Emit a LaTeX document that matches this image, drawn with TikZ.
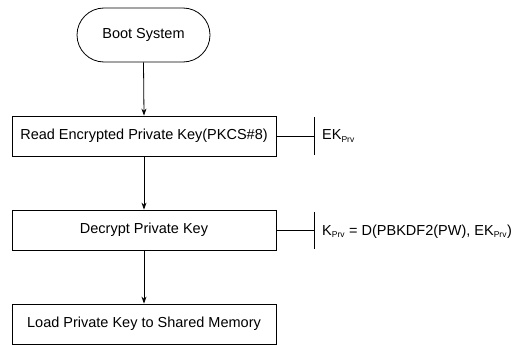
\documentclass[tikz,border=0pt]{standalone}
\usepackage{fontspec}
\setmainfont{Liberation Sans}
\usetikzlibrary{arrows.meta}
\begin{document}
\begin{tikzpicture}[x=1pt,y=-1pt,
  every node/.style={font=\fontsize{14.5}{16}\selectfont},
  procbox/.style={draw, line width=0.8pt, minimum width=264pt, minimum height=40pt, inner sep=0pt},
  termbox/.style={draw, line width=0.8pt, rounded corners=27pt, minimum width=133pt, minimum height=54pt, inner sep=0pt},
  flow/.style={line width=0.8pt, -{Stealth[length=7pt,width=5pt]}},
  tie/.style={line width=0.8pt},
  note/.style={anchor=west, inner sep=0pt}
]
\useasboundingbox (0,0) rectangle (519,345);
\node[termbox] (boot) at (143.5,35) {Boot System};
\node[procbox] (read) at (144,136) {Read Encrypted Private Key(PKCS\#8)};
\node[procbox] (dec) at (144,230) {Decrypt Private Key};
\node[procbox] (load) at (144,324) {Load Private Key to Shared Memory};
\draw[flow] (boot.south) -- (read.north);
\draw[flow] (read.south) -- (dec.north);
\draw[flow] (dec.south) -- (load.north);
\coordinate (b1) at (314,136);
\coordinate (b1t) at (314,117);
\coordinate (b1b) at (314,155);
\coordinate (b2) at (314,230);
\coordinate (b2t) at (314,212);
\coordinate (b2b) at (314,249);
\draw[tie] (read.east) -- (b1);
\draw[tie] (b1t) -- (b1b);
\draw[tie] (dec.east) -- (b2);
\draw[tie] (b2t) -- (b2b);
\node[note] (ek) at (322,136) {EK\textsubscript{\fontsize{8.5}{9}\selectfont Prv}};
\node[note] (kp) at (322,232) {K\textsubscript{\fontsize{8.5}{9}\selectfont Prv} = D(PBKDF2(PW), EK\textsubscript{\fontsize{8.5}{9}\selectfont Prv})};
\end{tikzpicture}
\end{document}
